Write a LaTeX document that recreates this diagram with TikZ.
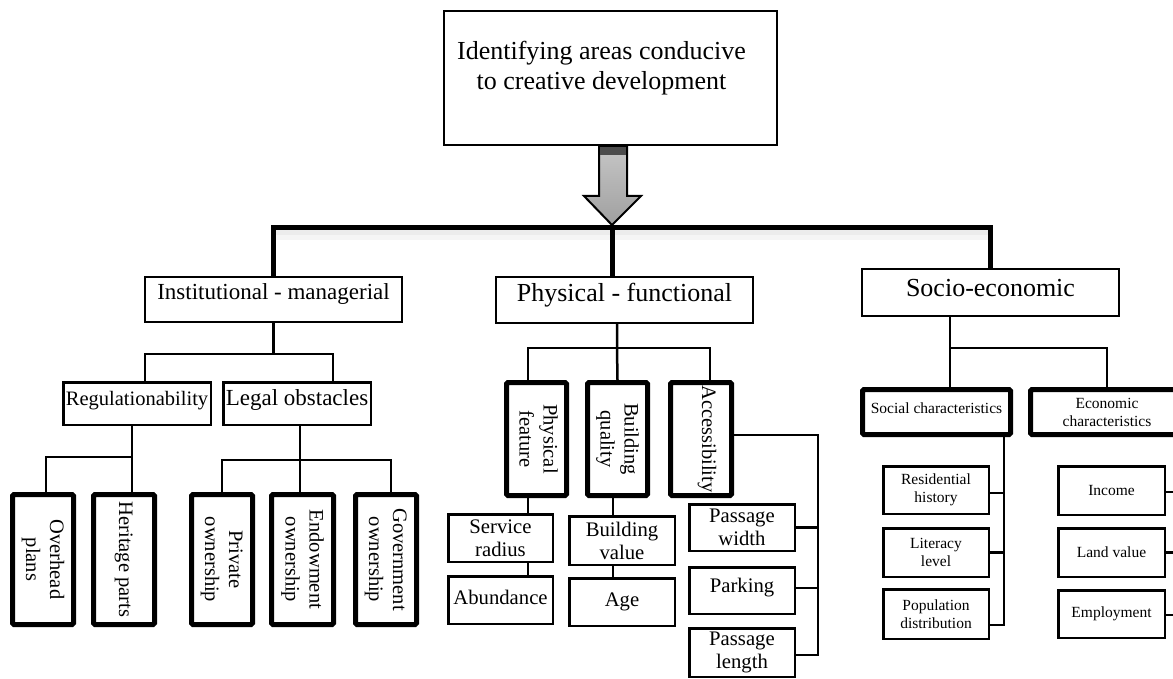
\documentclass[tikz,border=0pt]{standalone}
\usepackage{fontspec}
\usepackage{graphicx}
\setmainfont{Liberation Serif}
\usetikzlibrary{calc}
\newcommand\setfs[2]{\fontsize{#1}{#2}\selectfont}
\newcommand\upby[2]{\raisebox{#1}[\height][\depth]{#2}}
\newcommand\vtext[1]{\rotatebox{-90}{\begin{tabular}{@{}c@{}}#1\end{tabular}}}
\begin{document}
\begin{tikzpicture}[x=1pt,y=-1pt,
  hd/.style={draw, line width=2pt, inner sep=0pt, align=center, minimum width=257pt},
  bx/.style={draw, line width=2.5pt, inner sep=0pt, align=center, font=\setfs{20.7}{23}},
  sbx/.style={draw, line width=2.5pt, inner sep=0pt, align=center, font=\setfs{15.5}{18}},
  tk/.style={draw, line width=5pt, inner sep=0pt, rounded corners=1.5pt, align=center, font=\setfs{20.5}{24}},
  ln/.style={line width=2.5pt},
  barline/.style={line width=5pt},
]
\useasboundingbox (0,0) rectangle (1173,679);
\clip (0,0) rectangle (1173,679);

% top
\node[hd, minimum width=333pt, minimum height=134pt] (top) at (610.5,78) {};
\node[font=\setfs{26}{30}, align=center, inner sep=0pt] (toptxt) at (601.5,68) {Identifying areas conducive\\to creative development};

% level 1
\node[hd, minimum height=45pt, font=\setfs{23}{27}] (inst) at (273.5,299.5) {\upby{5pt}{Institutional - managerial}};
\node[hd, minimum height=46pt, font=\setfs{26}{30}] (phys) at (624.5,300) {\upby{5pt}{Physical - functional}};
\node[hd, minimum height=47pt, font=\setfs{26}{30}] (socio) at (990.5,292.5) {\upby{4pt}{Socio-economic}};

\coordinate (hub) at (612.5,228);
\draw[gray!8, line width=10pt] ([yshift=-7pt]inst.north |- hub) -- ([yshift=-7pt]socio.north |- hub);
\draw[gray!15, line width=5pt] ([yshift=-5pt]inst.north |- hub) -- ([yshift=-5pt]socio.north |- hub);
\draw[barline] (inst.north) |- (hub) -| (socio.north);
\draw[barline] (hub) -- (hub |- phys.north);

% arrow
\shade[top color=gray!45, bottom color=gray!75, draw=black, line width=2pt, line join=miter]
  (599,147) -- (627,147) -- (627,196) -- (641,196) -- (612,225) -- (584,196) -- (599,196) -- cycle;
\fill[gray!60!black] (600,147) rectangle (626,155);

% institutional subtree
\node[bx, font=\setfs{20.5}{24}, minimum width=147.5pt, minimum height=42.5pt] (reg) at (137,403.5) {\upby{3pt}{Regulationability}};
\node[bx, font=\setfs{23}{27}, minimum width=147.5pt, minimum height=42.5pt] (legal) at (297,403.5) {\upby{3pt}{Legal obstacles}};
\node[tk, minimum width=61pt, minimum height=130pt] (overhead) at (43,559.5) {\vtext{Overhead\\plans}};
\node[tk, minimum width=61pt, minimum height=130pt] (heritage) at (124,559.5) {\vtext{Heritage parts}};
\node[tk, minimum width=61pt, minimum height=130pt] (private) at (222,559.5) {\vtext{Private\\ownership}};
\node[tk, minimum width=62pt, minimum height=130pt] (endow) at (302.5,559.5) {\vtext{Endowment\\ownership}};
\node[tk, minimum width=61pt, minimum height=130pt] (govt) at (386,559.5) {\vtext{Government\\ownership}};

\draw[ln] (inst.south) -- ++(0,31) coordinate (ij);
\draw[ln] ([xshift=8pt]reg.north) |- (ij) -| ([xshift=36pt]legal.north);
\draw[ln] ([xshift=-5pt]reg.south) -- ++(0,31) coordinate (rj) -- ([xshift=8pt]heritage.north);
\draw[ln] ([xshift=3pt]overhead.north) |- (rj);
\draw[ln] ([xshift=3pt]legal.south) -- ++(0,34) coordinate (lj) -- ([xshift=-2.5pt]endow.north);
\draw[ln] (private.north) |- (lj) -| ([xshift=5pt]govt.north);

% physical subtree
\node[tk, minimum width=60pt, minimum height=113pt] (pf) at (536.5,439) {\vtext{Physical\\feature}};
\node[tk, minimum width=60pt, minimum height=113pt] (bq) at (617.5,439) {\vtext{Building\\quality}};
\node[tk, minimum width=61pt, minimum height=113pt] (acc) at (701,439) {\rotatebox{-90}{\raisebox{6pt}[\height][\depth]{Accessibility}}};
\node[bx, minimum width=104.5pt, minimum height=47.5pt] (serv) at (500.5,538) {Service\\radius};
\node[bx, minimum width=104.5pt, minimum height=47.5pt] (abund) at (500.5,600) {\upby{3pt}{Abundance}};
\node[bx, minimum width=105.5pt, minimum height=48.5pt] (bv) at (622,540.5) {Building\\value};
\node[bx, minimum width=105.5pt, minimum height=47.5pt] (age) at (622,602) {Age};
\node[bx, minimum width=105.5pt, minimum height=46.5pt] (pw) at (742,527.5) {Passage\\width};
\node[bx, minimum width=105.5pt, minimum height=46.5pt] (park) at (742,590.5) {\upby{3pt}{Parking}};
\node[bx, minimum width=105.5pt, minimum height=48.5pt] (pl) at (742,652.5) {Passage\\length};

\draw[ln] ([xshift=-7.5pt]phys.south) -- ++(0,24) coordinate (pj) -- (bq.north);
\draw[ln] ([xshift=-8.5pt]pf.north) |- (pj) -| ([xshift=9pt]acc.north);
\draw[ln] ([xshift=-8.5pt]pf.south) -- ([xshift=27.5pt]serv.north);
\draw[ln] ([xshift=27.5pt]serv.south) -- ([xshift=27.5pt]abund.north);
\draw[ln] ([xshift=-4.5pt]bq.south) -- ([xshift=-9pt]bv.north);
\draw[ln] ([xshift=-9pt]bv.south) -- ([xshift=-9pt]age.north);
\draw[ln] ([yshift=4pt]acc.east) -- ++(84,0) coordinate (aj) |- ([yshift=-2.5pt]pl.east);
\draw[ln] (pw.east) -- (pw.east -| aj);
\draw[ln] ([yshift=2.5pt]park.east) -- ([yshift=2.5pt]park.east -| aj);

% socio subtree
\node[tk, font=\setfs{15.5}{18}, minimum width=148pt, minimum height=45pt] (social) at (936.5,412) {\upby{4pt}{Social characteristics}};
\node[tk, font=\setfs{15.5}{18}, minimum width=153pt, minimum height=45pt] (econ) at (1107,412) {Economic\\characteristics};
\node[sbx, minimum width=105.5pt, minimum height=47.5pt] (rh) at (936,490) {Residential\\history};
\node[sbx, minimum width=105.5pt, minimum height=48.5pt] (ll) at (936,552.5) {Literacy\\level};
\node[sbx, minimum width=105.5pt, minimum height=49.5pt] (pd) at (936,614) {Population\\distribution};
\node[sbx, minimum width=106.5pt, minimum height=48.5pt] (inc) at (1111.5,490.5) {Income};
\node[sbx, minimum width=106.5pt, minimum height=48.5pt] (land) at (1111.5,552.5) {Land value};
\node[sbx, minimum width=106.5pt, minimum height=47.5pt] (empl) at (1111.5,614) {Employment};

\draw[ln] ([xshift=-40.5pt]socio.south) -- ++(0,31) coordinate (sj) -- ([xshift=13.5pt]social.north);
\draw[ln] (sj) -| (econ.north);
\draw[ln] ([xshift=67.5pt]social.south) coordinate (sv) |- ([yshift=-11pt]pd.east);
\draw[ln] ([yshift=-3pt]rh.east) -- ([yshift=-3pt]rh.east -| sv);
\draw[ln] (ll.east) -- (ll.east -| sv);
\draw[ln] ([yshift=-1.5pt]inc.east) -- ++(12,0);
\draw[ln] (land.east) -- ++(12,0);
\draw[ln] ([yshift=-1pt]empl.east) -- ++(12,0);
\end{tikzpicture}
\end{document}
